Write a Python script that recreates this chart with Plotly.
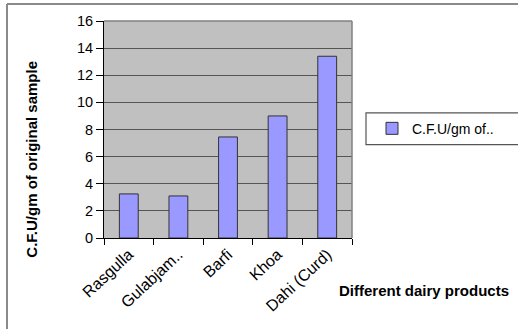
import plotly.graph_objects as go

categories = ["Rasgulla", "Gulabjam..", "Barfi", "Khoa", "Dahi (Curd)"]
values = [3.25, 3.1, 7.45, 9.0, 13.4]
series_name = "C.F.U/gm of.."
y_ticks = [0, 2, 4, 6, 8, 10, 12, 14, 16]

W, H = 518, 329
L, R, T, B = 104, 352, 21, 238.5
pw, ph = R - L, B - T

def px(x):
    return (x - L) / pw

def py(y):
    return (B - y) / ph

fig = go.Figure()
fig.add_trace(go.Bar(
    x=categories, y=values, name=series_name,
    marker=dict(color="#9999ff", line=dict(color="#333333", width=1)),
    showlegend=True,
))

font = dict(family="Liberation Sans, Arial, sans-serif", color="black")

fig.update_layout(
    width=W, height=H,
    margin=dict(l=L, r=W - R, t=T, b=H - B),
    paper_bgcolor="white",
    plot_bgcolor="#c0c0c0",
    bargap=0.62,
    font=dict(**font, size=14),
    showlegend=True,
    legend=dict(
        x=px(372), y=py(129), xanchor="left", yanchor="middle",
        bgcolor="rgba(0,0,0,0)", borderwidth=0,
        font=dict(**font, size=14),
        itemwidth=30,
    ),
    xaxis=dict(
        type="category", tickangle=-43, tickson="boundaries",
        ticks="outside", ticklen=6, tickcolor="black",
        showline=True, linecolor="black", linewidth=1,
        showgrid=False, mirror=False,
        tickfont=dict(**font, size=16),
        range=[-0.5, 4.5],
    ),
    yaxis=dict(
        range=[0, 16], tickvals=y_ticks,
        ticks="outside", ticklen=7, tickcolor="black",
        showline=True, linecolor="black", linewidth=1,
        gridcolor="#555555", gridwidth=1.3,
        tickfont=dict(**font, size=14.5),
        zeroline=False,
    ),
    shapes=[
        dict(type="line", xref="paper", yref="paper", x0=0, x1=1, y0=1, y1=1,
             line=dict(color="#808080", width=1.5)),
        dict(type="line", xref="paper", yref="paper", x0=1, x1=1, y0=0, y1=1,
             line=dict(color="#808080", width=1.5)),
        dict(type="line", xref="paper", yref="paper", x0=px(7), x1=px(530),
             y0=py(4), y1=py(4), line=dict(color="#8a8a8a", width=2)),
        dict(type="line", xref="paper", yref="paper", x0=px(7), x1=px(7),
             y0=py(4), y1=py(340), line=dict(color="#8a8a8a", width=2)),
        dict(type="rect", xref="paper", yref="paper", x0=px(366), x1=px(530),
             y0=py(145), y1=py(113), line=dict(color="#555555", width=1.2),
             fillcolor="rgba(0,0,0,0)"),
    ],
    annotations=[
        dict(text="<b>C.F.U/gm of original sample</b>", xref="paper", yref="paper",
             x=px(32), y=py(160), textangle=-90, showarrow=False,
             xanchor="center", yanchor="middle", font=dict(**font, size=15)),
        dict(text="<b>Different dairy products</b>", xref="paper", yref="paper",
             x=px(337), y=py(291), showarrow=False,
             xanchor="left", yanchor="middle", font=dict(**font, size=15)),
    ],
)

fig.write_html("out.html", config={"displayModeBar": False},
               post_script="document.body.style.margin='0';")
